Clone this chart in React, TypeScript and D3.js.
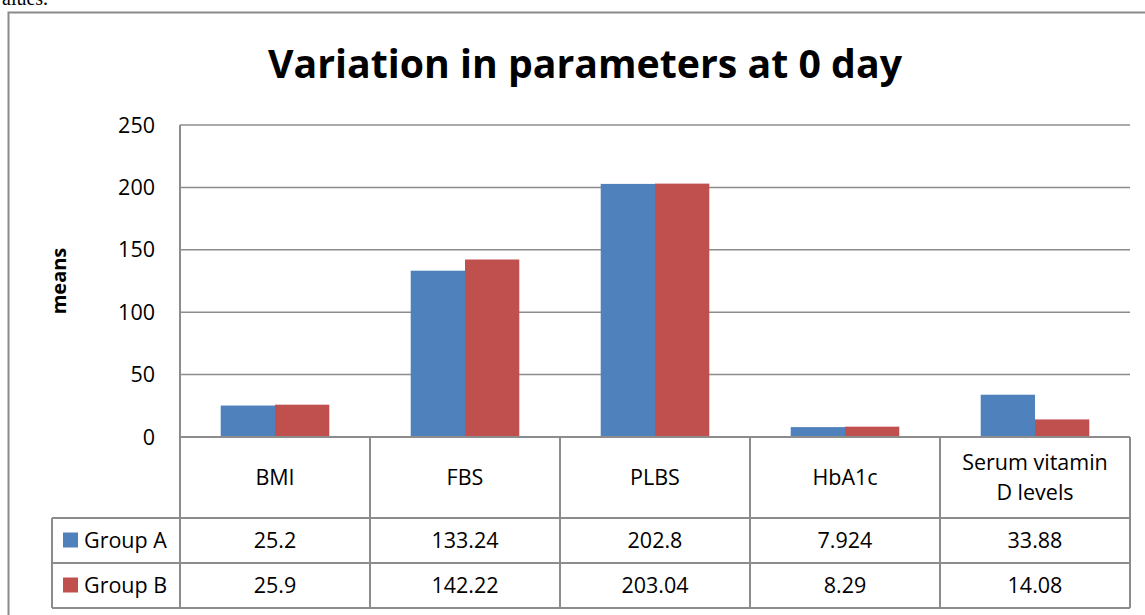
import React from "react";
import * as d3 from "d3";

const categories = ["BMI", "FBS", "PLBS", "HbA1c", "Serum vitamin D levels"];
const categoryLines = [["BMI"], ["FBS"], ["PLBS"], ["HbA1c"], ["Serum vitamin", "D levels"]];
const seriesNames = ["Group A", "Group B"];
const groupA = [25.2, 133.24, 202.8, 7.924, 33.88];
const groupB = [25.9, 142.22, 203.04, 8.29, 14.08];
const groupALabels = ["25.2", "133.24", "202.8", "7.924", "33.88"];
const groupBLabels = ["25.9", "142.22", "203.04", "8.29", "14.08"];
const yTicks = [0, 50, 100, 150, 200, 250];
const colors = ["#4F81BD", "#C0504D"];

const W = 1145;
const H = 615;
const plotL = 180;
const plotR = 1130;
const plotT = 125;
const plotB = 437;
const legendL = 52;
const rowA = 518;
const rowB = 563;
const rowEnd = 608;
const font = "Open Sans, 'Liberation Sans', sans-serif";
const gridColor = "#8c8c8c";
const fs = 21.5;

export default function App() {
  const x = d3.scaleBand<string>().domain(categories).range([plotL, plotR]).paddingInner(0).paddingOuter(0);
  const bw = x.bandwidth();
  const inner = d3.scaleBand<string>().domain(seriesNames).range([0, bw]).paddingInner(0).paddingOuter(0.75);
  const y = d3.scaleLinear().domain([0, 250]).range([plotB, plotT]);
  const series = [groupA, groupB];
  const labels = [groupALabels, groupBLabels];

  return (
    <svg width={W} height={H} style={{ position: "absolute", left: 0, top: 0, background: "#fff" }} fontFamily={font}>
      <rect x={0} y={0} width={W} height={H} fill="#fff" />
      <text x={-8} y={5} fontFamily="'Liberation Serif', 'Times New Roman', serif" fontSize={20} fill="#000">values.</text>
      <rect x={8.5} y={12.5} width={W + 20} height={H + 20} fill="none" stroke="#8a8a8a" strokeWidth={2} />
      <text x={585} y={78} textAnchor="middle" fontSize={40} fontWeight="bold" fill="#000" textLength={634} lengthAdjust="spacingAndGlyphs">Variation in parameters at 0 day</text>
      <text transform={`translate(66,${(plotT + plotB) / 2}) rotate(-90)`} textAnchor="middle" fontSize={20} fontWeight="bold" fill="#000">means</text>
      {yTicks.map((t) => (
        <g key={t}>
          {t > 0 && <line x1={plotL} x2={plotR} y1={y(t)} y2={y(t)} stroke={gridColor} strokeWidth={1.5} />}
          <text x={155} y={y(t)} dy="0.35em" textAnchor="end" fontSize={fs} fill="#000">{t}</text>
        </g>
      ))}
      {categories.map((c, i) => (
        <g key={c}>
          {series.map((s, j) => (
            <rect key={j} x={(x(c) as number) + (inner(seriesNames[j]) as number)} y={y(s[i])} width={inner.bandwidth()} height={plotB - y(s[i])} fill={colors[j]} />
          ))}
        </g>
      ))}
      <line x1={plotL} x2={plotL} y1={plotT} y2={rowEnd} stroke={gridColor} strokeWidth={2} />
      <line x1={plotL} x2={plotR} y1={plotB} y2={plotB} stroke={gridColor} strokeWidth={2} />
      {[rowA, rowB, rowEnd].map((ry) => (
        <line key={ry} x1={legendL} x2={plotR} y1={ry} y2={ry} stroke={gridColor} strokeWidth={2} />
      ))}
      <line x1={legendL} x2={legendL} y1={rowA} y2={rowEnd} stroke={gridColor} strokeWidth={2} />
      {categories.map((c) => (
        <line key={c} x1={(x(c) as number) + bw} x2={(x(c) as number) + bw} y1={plotB} y2={rowEnd} stroke={gridColor} strokeWidth={2} />
      ))}
      {categories.map((c, i) => {
        const lines = categoryLines[i];
        const cy = (plotB + rowA) / 2;
        return (
          <text key={c} textAnchor="middle" fontSize={fs} fill="#000">
            {lines.map((ln, k) => (
              <tspan key={k} x={(x(c) as number) + bw / 2} y={cy + (k - (lines.length - 1) / 2) * 30} dy="0.35em">{ln}</tspan>
            ))}
          </text>
        );
      })}
      {seriesNames.map((s, j) => {
        const top = j === 0 ? rowA : rowB;
        const bottom = j === 0 ? rowB : rowEnd;
        const cy = (top + bottom) / 2;
        return (
          <g key={s}>
            <rect x={63} y={cy - 8} width={15} height={15} fill={colors[j]} />
            <text x={84} y={cy} dy="0.35em" fontSize={fs} fill="#000">{s}</text>
            {categories.map((c, i) => (
              <text key={c} x={(x(c) as number) + bw / 2} y={cy} dy="0.35em" textAnchor="middle" fontSize={fs} fill="#000">{labels[j][i]}</text>
            ))}
          </g>
        );
      })}
    </svg>
  );
}
